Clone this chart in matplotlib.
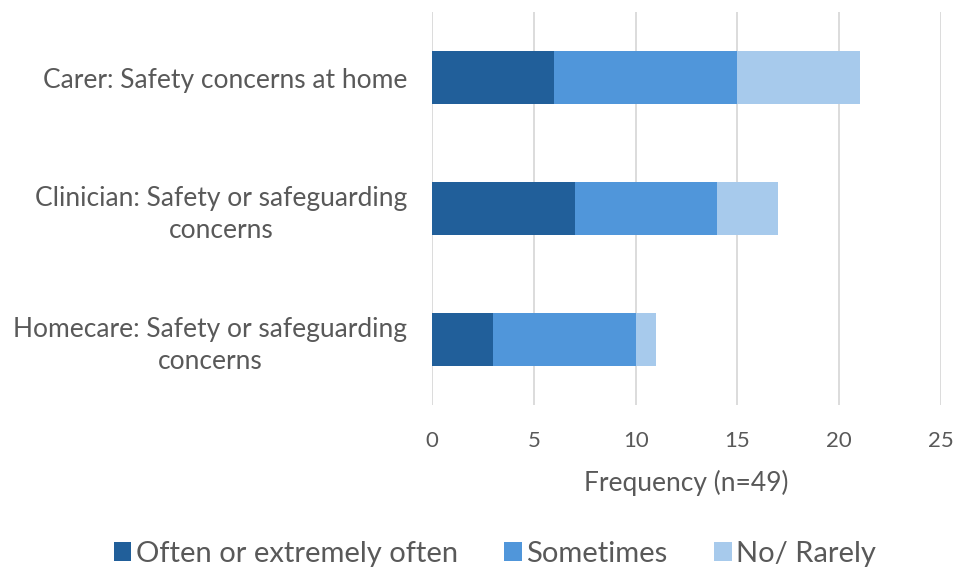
import matplotlib.pyplot as plt
from matplotlib.patches import Patch

# Responses per source (top to bottom as drawn)
categories = [
    "Carer: Safety concerns at home",
    "Clinician: Safety or safeguarding\nconcerns",
    "Homecare: Safety or safeguarding\nconcerns",
]
often = [6, 7, 3]
sometimes = [9, 7, 7]
rarely = [6, 3, 1]

series_names = ["Often or extremely often", "Sometimes", "No/ Rarely"]
colors = ["#215F9A", "#5096DA", "#A7CAEC"]
x_ticks = [0, 5, 10, 15, 20, 25]

TEXT = "#595959"
plt.rcParams["font.family"] = ["Lato", "DejaVu Sans"]


def main():
    fig = plt.figure(figsize=(9.57, 5.67), dpi=100)
    ax = fig.add_axes([0.4514, 0.2857, 0.5319, 0.6931])

    ypos = list(range(len(categories)))
    left = [0] * len(categories)
    for vals, col, name in zip([often, sometimes, rarely], colors, series_names):
        ax.barh(ypos, vals, left=left, height=0.4, color=col, label=name)
        left = [a + b for a, b in zip(left, vals)]

    ax.set_xlim(0, 25)
    ax.set_ylim(len(categories) - 0.5, -0.5)
    ax.set_xticks(x_ticks)
    ax.set_yticks(ypos)
    ax.set_yticklabels(categories, multialignment="center", linespacing=1.35)
    ax.grid(axis="x", color="#D9D9D9", linewidth=1.3)
    ax.set_axisbelow(True)
    for s in ax.spines.values():
        s.set_visible(False)
    ax.tick_params(axis="both", length=0, labelcolor=TEXT)
    ax.tick_params(axis="x", pad=19, labelsize=16)
    ax.tick_params(axis="y", pad=18, labelsize=19)
    ax.set_xlabel("Frequency (n=49)", fontsize=19, color=TEXT, labelpad=13)

    handles = [Patch(facecolor=c, edgecolor="none") for c in colors]
    fig.legend(handles, series_names, loc="center", bbox_to_anchor=(0.517, 0.023),
               ncol=3, frameon=False, fontsize=21, labelcolor=TEXT,
               handlelength=0.6, handleheight=0.6, handletextpad=0.15,
               columnspacing=1.6)

    fig.savefig("out.png", dpi=100)
    plt.close(fig)


if __name__ == "__main__":
    main()
